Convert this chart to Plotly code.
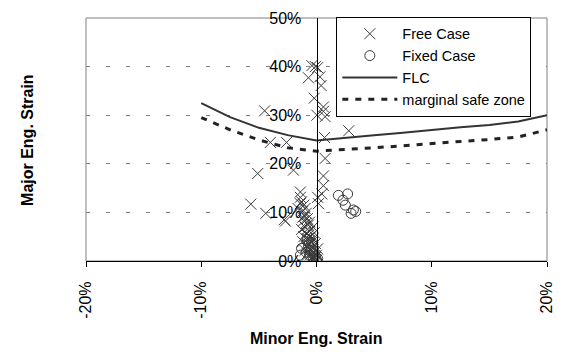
import numpy as np
import plotly.graph_objects as go

# ---- data (percent) ----
free_x = [-0.1, -0.4, 0.1, -0.7, 0.3, 0.4, -0.2, 0.6, 0.75, 0.03, 0.6, 0.7, 2.8, 0.75, 0.6, 0.6, 0.46, 0.17, 0.1,
          -4.5, -4.0, -2.6, -5.1, -2.0, -5.7, -4.4, -2.8, -1.4, -1.3, -1.6, -1.4, -1.4, -2.7,
          -1.1, -1.0, -1.2, -0.9, -1.0, -0.8, -1.1, -0.9, -0.7, -1.0, -0.8, -0.6, -0.9, -0.7, -0.5,
          -0.8, -0.6, -0.4, -0.7, -0.5, -0.3, -0.6, -0.4, -0.2, -0.5, -0.3, -0.1, -0.2, 0.0, -0.4,
          -1.2, -1.3, -1.1, -0.9, -1.0, -0.3, -0.1, -0.2, 0.0, -0.6, -1.2, -0.8, -0.3, 0.1]
free_y = [40.0, 40.2, 39.8, 37.7, 37.9, 36.1, 33.5, 31.7, 29.7, 30.0, 30.8, 25.4, 26.8, 21.1, 17.5, 15.5, 13.8, 11.8, 13.1,
          30.9, 24.4, 24.4, 18.0, 18.7, 11.7, 9.8, 8.5, 14.2, 12.2, 10.8, 11.8, 13.1, 8.2,
          11.5, 10.8, 10.2, 9.8, 9.2, 8.7, 8.3, 7.8, 7.4, 7.0, 6.5, 6.1, 5.7, 5.3, 5.0,
          4.6, 4.2, 3.9, 3.5, 3.1, 2.8, 2.4, 2.0, 1.7, 1.4, 1.0, 0.7, 0.4, 0.2, 0.6,
          9.0, 6.5, 5.0, 3.0, 2.2, 4.5, 3.6, 5.8, 1.2, 8.0, 4.0, 1.5, 7.0, 2.5]

fixed_x = [1.9, 2.7, 2.3, 2.5, 3.2, 3.0, 3.4, -1.3, -0.9, -0.6, -0.3, 0.0, -0.1, 0.0, -0.7, -0.5, -0.2, 0.1, -1.4, -0.4, -0.8]
fixed_y = [13.5, 13.8, 12.5, 11.5, 10.5, 9.8, 10.2, 2.6, 1.8, 1.2, 0.6, 0.2, 1.0, 0.0, 3.2, 2.2, 1.5, 0.5, 1.2, 3.8, 4.5]

flc_x = [-10, -7.5, -5, -2.5, 0, 2.5, 5, 7.5, 10, 12.5, 15, 17.5, 20]
flc_y = [32.5, 29.6, 27.4, 25.9, 24.8, 25.4, 25.9, 26.4, 27.0, 27.5, 28.0, 28.7, 30.0]

msz_x = [-10, -7.5, -5, -2.5, 0, 2.5, 5, 7.5, 10, 12.5, 15, 17.5, 20]
msz_y = [29.5, 27.0, 24.9, 23.3, 22.6, 22.9, 23.3, 23.7, 24.2, 24.6, 25.0, 25.5, 27.0]

x_ticks = [-20, -10, 0, 10, 20]
x_ticklabels = ["-20%", "-10%", "0%", "10%", "20%"]
y_ticks = [0, 10, 20, 30, 40, 50]
y_ticklabels = ["0%", "10%", "20%", "30%", "40%", "50%"]

pct = lambda v: np.array(v, dtype=float) / 100.0

FONT = "Liberation Sans, Arial, sans-serif"
MARK = "#3a3a3a"

fig = go.Figure()
fig.add_trace(go.Scatter(x=pct(free_x), y=pct(free_y), mode="markers", name="Free Case",
                         marker=dict(symbol="x-thin", size=11, line=dict(color=MARK, width=1), color=MARK)))
fig.add_trace(go.Scatter(x=pct(fixed_x), y=pct(fixed_y), mode="markers", name="Fixed Case",
                         marker=dict(symbol="circle-open", size=10, line=dict(color=MARK, width=1), color=MARK)))
fig.add_trace(go.Scatter(x=pct(flc_x), y=pct(flc_y), mode="lines", name="FLC",
                         line=dict(color="#333333", width=2)))
fig.add_trace(go.Scatter(x=pct(msz_x), y=pct(msz_y), mode="lines", name="marginal safe zone",
                         line=dict(color="#222222", width=3, dash="6px,7px")))

# plot-area frame (gray)
fig.add_shape(type="rect", xref="paper", yref="paper", x0=0, y0=0, x1=1, y1=1,
              line=dict(color="#808080", width=1), layer="below")

fig.update_layout(
    width=565, height=358,
    margin=dict(l=86, r=15, t=10, b=97),
    paper_bgcolor="white", plot_bgcolor="white",
    font=dict(family=FONT, color="black", size=16),
    showlegend=True,
    legend=dict(x=0.543, y=1.005, xanchor="left", yanchor="top",
                bgcolor="white", bordercolor="black", borderwidth=1,
                font=dict(size=14.5, family=FONT), itemwidth=55, tracegroupgap=0),
    xaxis=dict(range=[-0.2, 0.2], tickvals=pct(x_ticks), ticktext=x_ticklabels,
               tickangle=-90, ticks="outside", ticklen=5, tickcolor="black",
               showline=True, linecolor="black", linewidth=1,
               showgrid=False, zeroline=False, tickfont=dict(size=16),
               ticklabelstandoff=8),
    yaxis=dict(range=[0, 0.5], tickvals=pct(y_ticks), ticktext=y_ticklabels,
               anchor="free", position=0.5, ticks="",
               showline=True, linecolor="black", linewidth=1,
               showgrid=True, gridcolor="#808080", griddash="4px,16px", gridwidth=1,
               zeroline=False, tickfont=dict(size=16), ticklabelstandoff=12),
    annotations=[
        dict(text="<b>Minor Eng. Strain</b>", xref="paper", yref="paper",
             x=0.498, y=-0.32, showarrow=False, font=dict(size=16, family=FONT),
             xanchor="center", yanchor="middle"),
        dict(text="<b>Major Eng. Strain</b>", xref="paper", yref="paper",
             x=-0.127, y=0.5, showarrow=False, textangle=-90, font=dict(size=16, family=FONT),
             xanchor="center", yanchor="middle"),
    ],
)

fig.write_html("out.html")
